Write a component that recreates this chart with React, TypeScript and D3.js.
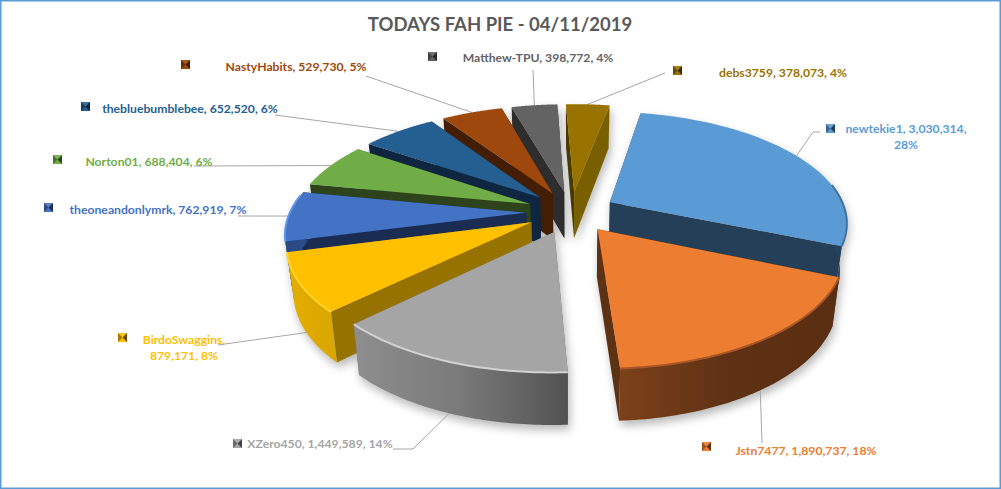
import React from "react";
import * as d3 from "d3";

const names = ["newtekie1", "Jstn7477", "XZero450", "BirdoSwaggins", "theoneandonlymrk", "Norton01", "thebluebumblebee", "NastyHabits", "Matthew-TPU", "debs3759"];
const points = [3030314, 1890737, 1449589, 879171, 762919, 688404, 652520, 529730, 398772, 378073];

const topColors = ["#5b9bd5", "#ed7d31", "#a5a5a5", "#ffc000", "#4472c4", "#70ad47", "#255e91", "#9e480e", "#636363", "#997300"];
const startWalls = ["#243f57", "#5c3114", "#6d6d6d", "#967300", "#1a2c52", "#2c431b", "#0e2640", "#431e05", "#2d2d2d", "#4a3900"];
const endWalls = ["#243f57", "#5c3114", "#6d6d6d", "#967300", "#1a2c52", "#2c431b", "#0e2640", "#431e05", "#2d2d2d", "#7a5f00"];
const rimStops = [
  ["#2b4e6e", "#1f3a52"],
  ["#7c411a", "#5f3114", "#5a2e12"],
  ["#8e8e8e", "#7a7a7a", "#525252"],
  ["#e3ae00", "#d9a600"],
  ["#2a4a86", "#2a4a86"],
  ["#3f6429", "#3f6429"],
  ["#16395a", "#16395a"],
  ["#5f2b08", "#5f2b08"],
  ["#3c3c3c", "#3c3c3c"],
  ["#5c4500", "#5c4500"],
];
const rimLights = ["#3f729f", "#a9572a", "#d2d2d2", "#ffd22e", "#5f95ea", "#70ad47", "#255e91", "#9e480e", "#636363", "#997300"];

// where the labels sit, same order as names
const labelX = [906, 806, 320, 184, 158, 149, 190, 296, 538, 783];
const labelY = [133, 455, 448, 344, 214, 166, 113, 71, 62, 77];
const keyX = [826, 702, 233, 118, 44, 53, 81, 181, 428, 673];
const keyY = [124, 442, 439, 333, 203, 155, 102, 60, 52, 66];
const leaderStarts: [number, number][][] = [
  [[820, 132], [813, 132]],
  [[762, 443]],
  [[393, 449], [413, 449]],
  [[218, 345]],
  [[238, 216]],
  [[194, 166]],
  [[275, 115]],
  [[366, 76]],
  [[533, 70]],
  [[665, 73]],
];

const cx = 571;
const cy = 212;
const radiusX = 236;
const radiusY = 109;
const persp = 0.17;
const explode = 0.19;
const firstAngle = (10.5 * Math.PI) / 180;

const total = d3.sum(points);
const pieGen = d3
  .pie<number>()
  .sort(null)
  .startAngle(firstAngle)
  .endAngle(firstAngle + 2 * Math.PI);
const arcs = pieGen(points);

const fmt = d3.format(",");
const pct = (v: number) => `${Math.round((v / total) * 100)}%`;

// plate coords -> screen, with a little perspective towards the viewer
const project = (r: number, a: number, mid: number, low = false) => {
  const X = r * Math.sin(a) + explode * Math.sin(mid);
  const Y = -r * Math.cos(a) - explode * Math.cos(mid);
  const w = 1 - persp * Y;
  const sx = (radiusX * X) / w;
  const sy = (radiusY * Y) / w;
  if (!low) return [cx + sx, cy + sy] as [number, number];
  const depth = 47 / Math.pow(w, 0.5);
  return [cx + sx * 0.975, cy + sy + depth] as [number, number];
};

const line = d3.line();

const rimPts = (a0: number, a1: number, mid: number, low = false) =>
  d3.range(0, 61).map((i) => project(1, a0 + ((a1 - a0) * i) / 60, mid, low));

const Key = ({ x, y, color }: { x: number; y: number; color: string }) => (
  <g>
    <rect x={x} y={y} width={9} height={9} fill={color} />
    <polygon points={`${x},${y} ${x + 4.5},${y + 4.5} ${x},${y + 9}`} fill="#000" opacity={0.35} />
    <polygon points={`${x + 9},${y} ${x + 4.5},${y + 4.5} ${x + 9},${y + 9}`} fill="#000" opacity={0.6} />
    <polygon points={`${x},${y} ${x + 9},${y} ${x + 4.5},${y + 4.5}`} fill="#fff" opacity={0.1} />
  </g>
);

export default function App() {
  const slices = arcs.map((d, i) => {
    const mid = (d.startAngle + d.endAngle) / 2;
    const top = rimPts(d.startAngle, d.endAngle, mid);
    const low = rimPts(d.startAngle, d.endAngle, mid, true);
    const apex = project(0, 0, mid);
    const apexLow = project(0, 0, mid, true);
    // only the part of the outer wall that faces the viewer gets drawn
    const facing = d3.range(0, 61).filter((k) => {
      const a = d.startAngle + ((d.endAngle - d.startAngle) * k) / 60;
      return Math.cos(a) < 0.17;
    });
    return { i, mid, top, low, apex, apexLow, facing };
  });
  // back slices first, the last three sit in front
  const paintOrder = [9, 8, 7, 6, 5, 4, 3, 0, 1, 2];

  const body = (s: (typeof slices)[number], shadow = false) => {
    const fillOf = (c: string) => (shadow ? "#000" : c);
    const wall = (t: [number, number], l: [number, number]) =>
      line([s.apex, t, l, s.apexLow]) + "Z";
    const topFacing = s.facing.map((k) => s.top[k]);
    const lowFacing = s.facing.map((k) => s.low[k]);
    return (
      <g key={s.i}>
        <path d={wall(s.top[0], s.low[0])} fill={fillOf(startWalls[s.i])} />
        <path d={wall(s.top[60], s.low[60])} fill={fillOf(endWalls[s.i])} />
        {s.facing.length > 1 && (
          <path
            d={line([...topFacing, ...lowFacing.slice().reverse()]) + "Z"}
            fill={shadow ? "#000" : `url(#rim${s.i})`}
          />
        )}
        <path d={line([s.apex, ...s.top]) + "Z"} fill={fillOf(topColors[s.i])} />
        {!shadow && s.facing.length > 1 && (
          <path
            d={line(topFacing) as string}
            fill="none"
            stroke={rimLights[s.i]}
            strokeWidth={2}
            filter="url(#soft)"
          />
        )}
      </g>
    );
  };

  return (
    <svg
      width={1001}
      height={489}
      style={{ position: "absolute", left: 0, top: 0, background: "#fff" }}
      fontFamily="Lato, 'Open Sans', sans-serif"
    >
      <defs>
        <filter id="soft" x="-10%" y="-10%" width="120%" height="120%">
          <feGaussianBlur stdDeviation={0.7} />
        </filter>
        <filter id="blur" x="-10%" y="-10%" width="120%" height="120%">
          <feGaussianBlur stdDeviation={5} />
        </filter>
        {rimStops.map((stops, i) => (
          <linearGradient key={i} id={`rim${i}`} x1="0" y1="0" x2="1" y2="0">
            {stops.map((c, j) => (
              <stop key={j} offset={j / (stops.length - 1)} stopColor={c} />
            ))}
          </linearGradient>
        ))}
      </defs>

      <rect x={0.75} y={0.75} width={999.5} height={487.5} fill="#fff" stroke="#5b9bd5" strokeWidth={1.5} />

      <text x={500} y={31} textAnchor="middle" fontSize={18.5} fontWeight={700} fill="#595959">
        TODAYS FAH PIE - 04/11/2019
      </text>

      {/* shadow */}
      <g filter="url(#blur)" opacity={0.28} transform="translate(2,5)">
        {slices.map((s) => body(s, true))}
      </g>

      {/* leader lines */}
      {slices.map((s) => {
        const front = Math.cos(s.mid) < 0 && s.i < 4;
        const end = project(1, s.mid, s.mid, front);
        return (
          <path
            key={s.i}
            d={line([...leaderStarts[s.i], end]) as string}
            fill="none"
            stroke="#a6a6a6"
            strokeWidth={1}
          />
        );
      })}

      {paintOrder.map((i) => body(slices[i]))}

      {/* labels */}
      {names.map((name, i) => {
        const color = topColors[i];
        const whole = `${name}, ${fmt(points[i])}, ${pct(points[i])}`;
        const lines =
          i === 0
            ? [`${name}, ${fmt(points[i])},`, pct(points[i])]
            : i === 3
              ? [`${name},`, `${fmt(points[i])}, ${pct(points[i])}`]
              : [whole];
        return (
          <g key={name}>
            <Key x={keyX[i]} y={keyY[i]} color={color} />
            <text x={labelX[i]} y={labelY[i]} textAnchor="middle" fontSize={12.2} fontWeight={700} fill={color}>
              {lines.map((t, j) => (
                <tspan key={j} x={labelX[i]} dy={j === 0 ? 0 : 16}>
                  {t}
                </tspan>
              ))}
            </text>
          </g>
        );
      })}
    </svg>
  );
}
